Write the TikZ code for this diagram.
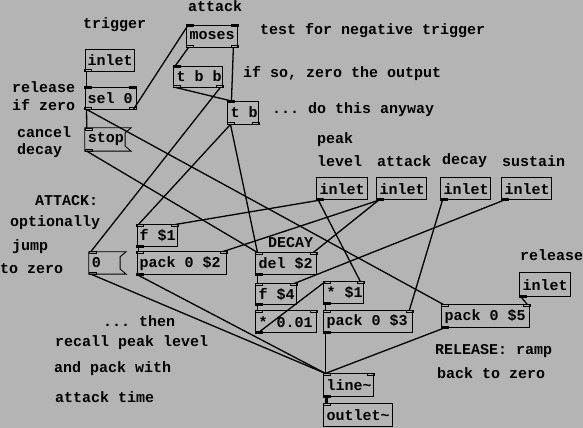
\documentclass[tikz,border=0pt]{standalone}
\usepackage{fontspec}
\setmonofont{Liberation Mono}
\usetikzlibrary{calc,fit}
\definecolor{bgc}{HTML}{B4B4B4}
\tikzset{
  obj/.style={draw=black,line width=0.9pt,inner sep=0pt},
  msgbox/.style={inner sep=0pt},
  otxt/.style={font=\ttfamily\bfseries\fontsize{15}{17}\selectfont,anchor=west,inner sep=0pt,xshift=3pt},
  cmt/.style={font=\ttfamily\bfseries\fontsize{15}{17}\selectfont,anchor=west,inner sep=0pt},
  nub/.style={draw=black,line width=0.5pt},
  wire/.style={line width=1.3pt},
  sig/.style={line width=3pt},
}
% object box: name, corners, text
\newcommand{\obj}[6]{\node[obj,fit={(#2,#3) (#4,#5)}] (#1) {};\node[otxt] at (#1.west) {#6};}
% message box with the flag on its right side
\newcommand{\msg}[6]{\node[msgbox,fit={(#2,#3) (#4,#5)}] (#1) {};
  \draw[line width=0.9pt] (#1.north west) -- ($(#1.north east)+(6,0)$) -- ($(#1.north east)+(0,5)$)
    -- ($(#1.south east)+(0,-5)$) -- ($(#1.south east)+(6,0)$) -- (#1.south west) -- cycle;
  \node[otxt] at (#1.west) {#6};}
% inlet / outlet nubs
\newcommand{\ntl}[1]{\draw[nub] (#1.north west) rectangle ++(7,2);}
\newcommand{\ntr}[1]{\draw[nub] (#1.north east) rectangle ++(-7,2);}
\newcommand{\nbl}[1]{\draw[nub] (#1.south west) rectangle ++(7,-2);}
\newcommand{\nbr}[1]{\draw[nub] (#1.south east) rectangle ++(-7,-2);}

\begin{document}
\begin{tikzpicture}[x=1pt,y=-1pt]
  \fill[bgc] (0,0) rectangle (583,428);
  % comments
  \node[cmt] at (83,25) {trigger};
  \node[cmt] at (188,6) {attack};
  \node[cmt] at (260,31) {test for negative trigger};
  \node[cmt] at (243,74) {if so, zero the output};
  \node[cmt] at (272,110) {... do this anyway};
  \node[cmt] at (12,87) {release};
  \node[cmt] at (12,105) {if zero};
  \node[cmt] at (17,132) {cancel};
  \node[cmt] at (17,151) {decay};
  \node[cmt] at (317,140) {peak};
  \node[cmt] at (317,161) {level};
  \node[cmt] at (377,161) {attack};
  \node[cmt] at (442,161) {decay};
  \node[cmt] at (502,161) {sustain};
  \node[cmt] at (35,201) {ATTACK:};
  \node[cmt] at (10,223) {optionally};
  \node[cmt] at (12,247) {jump};
  \node[cmt] at (0,269) {to zero};
  \node[cmt] at (103,321) {... then};
  \node[cmt] at (55,343) {recall peak level};
  \node[cmt] at (54,369) {and pack with};
  \node[cmt] at (55,397) {attack time};
  \node[cmt] at (268,243) {DECAY};
  \node[cmt] at (520,255) {release};
  \node[cmt] at (435,351) {RELEASE: ramp};
  \node[cmt] at (437,373) {back to zero};
  % boxes
  \obj{intrig}{85}{49}{134}{71}{inlet}
  \obj{sel}{85}{87}{136}{109}{sel 0}
  \msg{stop}{85}{128}{125}{151}{stop}
  \obj{moses}{187}{25}{238}{47}{moses}
  \obj{tbb}{174}{66}{223}{87}{t b b}
  \obj{tb}{228}{101}{259}{124}{t b}
  \obj{inpeak}{317}{178}{368}{200}{inlet}
  \obj{inatt}{377}{178}{427}{200}{inlet}
  \obj{indec}{441}{178}{491}{200}{inlet}
  \obj{insus}{502}{178}{552}{200}{inlet}
  \obj{fone}{137}{225}{178}{247}{f \$1}
  \obj{packtwo}{137}{252}{227}{275}{pack 0 \$2}
  \msg{zero}{89}{252}{120}{274}{0}
  \obj{del}{256}{253}{317}{275}{del \$2}
  \obj{ffour}{256}{284}{297}{305}{f \$4}
  \obj{mulc}{256}{311}{317}{333}{* 0.01}
  \obj{mulone}{324}{282}{364}{304}{* \$1}
  \obj{packthree}{324}{311}{413}{333}{pack 0 \$3}
  \obj{inrel}{520}{273}{571}{297}{inlet}
  \obj{packfive}{442}{305}{530}{328}{pack 0 \$5}
  \obj{line}{324}{374}{374}{397}{line\textasciitilde}
  \obj{out}{324}{404}{393}{427}{outlet\textasciitilde}
  % nubs
  \foreach \n in {intrig,inpeak,inatt,indec,insus,inrel} {\nbl{\n}}
  \foreach \n in {sel,stop,moses,tbb,tb,fone,packtwo,zero,del,ffour,mulc,mulone,packthree,packfive,line,out} {\ntl{\n}}
  \foreach \n in {sel,stop,moses,tbb,tb,fone,packtwo,zero,del,ffour,mulc,mulone,packthree,packfive,line} {\nbl{\n}}
  \foreach \n in {sel,moses,fone,packtwo,del,ffour,mulc,mulone,packthree,packfive,line} {\ntr{\n}}
  \foreach \n in {sel,moses,tbb,tb} {\nbr{\n}}
  % connections
  \draw[wire] ([xshift=2pt]intrig.south west) -- ([xshift=2pt]sel.north west);
  \draw[wire] ([xshift=2pt]sel.south west) -- ([xshift=2pt]stop.north west);
  \draw[wire] ([xshift=-3pt]sel.south east) -- ([xshift=2pt]moses.north west);
  \draw[wire] ([xshift=2pt]sel.south west) -- ([xshift=2pt]packfive.north west);
  \draw[wire] ([xshift=2pt]stop.south west) -- ([xshift=2pt]del.north west);
  \draw[wire] ([xshift=2pt]moses.south west) -- ([xshift=2pt]tbb.north west);
  \draw[wire] ([xshift=-5pt]moses.south east) -- ([xshift=4pt]tb.north west);
  \draw[wire] ([xshift=2pt]tbb.south west) -- ([xshift=2pt]tb.north west);
  \draw[wire] ([xshift=-3pt]tbb.south east) -- ([xshift=2pt]zero.north west);
  \draw[wire] ([xshift=3pt]tb.south west) -- ([xshift=2pt]fone.north west);
  \draw[wire] ([xshift=3pt]tb.south west) -- ([xshift=2pt]del.north west);
  \draw[wire] ([xshift=2pt]inpeak.south west) -- ([xshift=-3pt]fone.north east);
  \draw[wire] ([xshift=2pt]inpeak.south west) -- ([xshift=-4pt]mulone.north east);
  \draw[wire] ([xshift=2pt]inatt.south west) -- ([xshift=-4pt]packtwo.north east);
  \draw[wire] ([xshift=2pt]inatt.south west) -- ([xshift=-4pt]del.north east);
  \draw[wire] ([xshift=2pt]indec.south west) -- ([xshift=-4pt]packthree.north east);
  \draw[wire] ([xshift=2pt]insus.south west) -- ([xshift=-3pt]ffour.north east);
  \draw[wire] ([xshift=2pt]inrel.south west) -- ([xshift=-3pt]packfive.north east);
  \draw[wire] ([xshift=2pt]fone.south west) -- ([xshift=2pt]packtwo.north west);
  \draw[wire] ([xshift=2pt]zero.south west) -- ([xshift=2pt]line.north west);
  \draw[wire] ([xshift=2pt]packtwo.south west) -- ([xshift=2pt]line.north west);
  \draw[wire] ([xshift=2pt]del.south west) -- ([xshift=2pt]ffour.north west);
  \draw[wire] ([xshift=2pt]ffour.south west) -- ([xshift=2pt]mulc.north west);
  \draw[wire] ([xshift=2pt]mulc.south west) -- ([xshift=2pt]mulone.north west);
  \draw[wire] ([xshift=2pt]mulone.south west) -- ([xshift=2pt]packthree.north west);
  \draw[wire] ([xshift=2pt]packthree.south west) -- ([xshift=2pt]line.north west);
  \draw[wire] ([xshift=2pt]packfive.south west) -- ([xshift=2pt]line.north west);
  \draw[sig] ([xshift=3pt]line.south west) -- ([xshift=3pt]out.north west);
\end{tikzpicture}
\end{document}
